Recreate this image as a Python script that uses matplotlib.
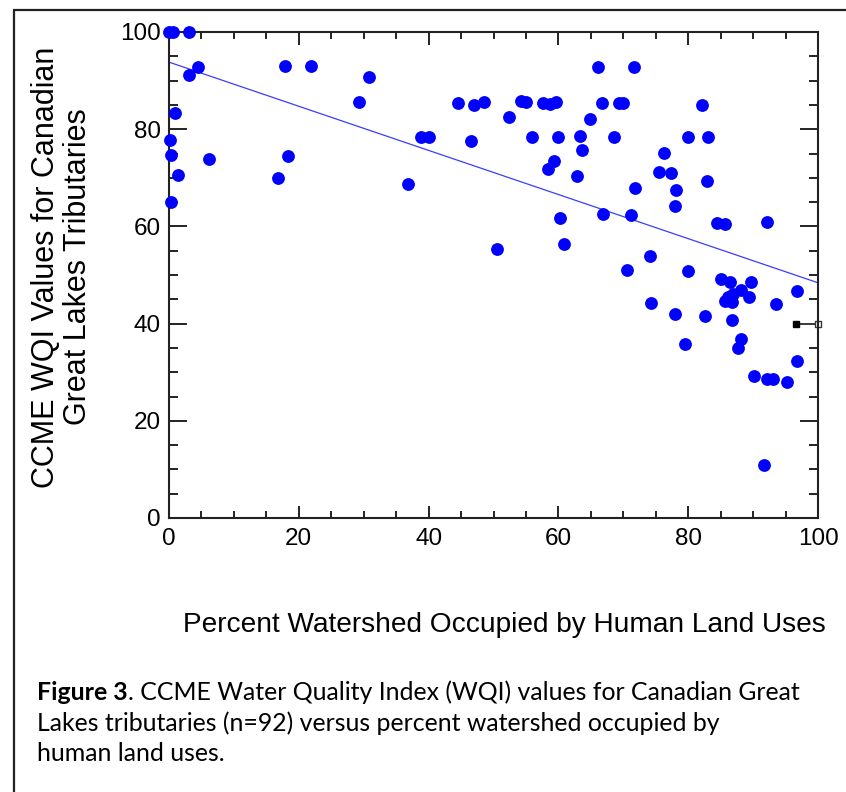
import numpy as np
import matplotlib
matplotlib.use('Agg')
import matplotlib.pyplot as plt
from matplotlib.patches import Rectangle

# percent watershed in human land use vs CCME WQI
land_use = [0.0, 0.6, 3.1, 4.4, 3.1, 1.0, 0.1, 0.3, 1.4, 0.3, 6.1,
            17.9, 21.9, 18.4, 16.8, 30.8, 29.3, 36.8, 38.9, 40.0,
            44.6, 47.0, 48.6, 46.6, 52.4, 54.3, 55.0, 57.7, 58.7, 59.6,
            55.9, 60.0, 63.4, 63.7, 64.9, 66.7, 69.4, 70.0, 68.6, 59.3,
            58.4, 62.9, 50.5, 60.3, 60.9, 66.9, 71.2, 71.8, 66.1, 71.6,
            82.1, 79.9, 83.1, 76.3, 75.5, 77.3, 78.1, 77.9, 82.9, 84.5,
            85.7, 92.1, 74.1, 70.5, 80.0, 74.3, 77.9, 82.6, 79.5, 85.1,
            86.4, 89.7, 88.2, 86.9, 89.4, 85.7, 86.7, 86.7, 88.1, 87.7,
            93.6, 96.7, 96.8, 90.2, 92.1, 93.1, 95.3, 91.7, 86.2]
wqi = [100.0, 100.0, 100.0, 92.8, 91.2, 83.4, 77.8, 74.6, 70.6, 65.0, 73.8,
       93.0, 93.0, 74.5, 70.0, 90.7, 85.6, 68.7, 78.4, 78.4,
       85.4, 85.0, 85.5, 77.5, 82.6, 85.8, 85.6, 85.4, 85.2, 85.5,
       78.4, 78.4, 78.6, 75.8, 82.0, 85.4, 85.4, 85.4, 78.3, 73.4,
       71.9, 70.3, 55.4, 61.7, 56.3, 62.6, 62.4, 67.9, 92.7, 92.7,
       85.0, 78.3, 78.3, 75.2, 71.1, 71.0, 67.4, 64.3, 69.3, 60.6,
       60.4, 60.9, 54.0, 51.0, 50.8, 44.3, 41.9, 41.5, 35.7, 49.1,
       48.6, 48.6, 46.9, 46.0, 45.4, 44.6, 44.4, 40.7, 36.9, 35.0,
       44.1, 46.7, 32.3, 29.3, 28.7, 28.6, 28.0, 10.9, 45.5]

# fitted line as drawn in the figure
fit_intercept = 93.8
fit_slope = -0.454

# small black marker with bar at the right edge
marker_x = [96.6, 100]
marker_y = [40, 40]

caption_lines = ['. CCME Water Quality Index (WQI) values for Canadian Great',
                 'Lakes tributaries (n=92) versus percent watershed occupied by',
                 'human land uses.']

plt.rcParams['font.family'] = ['Liberation Sans', 'DejaVu Sans']

fig = plt.figure(figsize=(8.46, 7.92), dpi=100)
ax = fig.add_axes([169 / 846, 1 - 518 / 792, 649 / 846, 486 / 792])

ax.plot(land_use, wqi, 'o', color='#0000ff', ms=8.2, mec='#0000ff', clip_on=False, zorder=3)

xs = np.array([0, 100])
ax.plot(xs, fit_intercept + fit_slope * xs, color='#3c3cff', lw=0.9)

ax.plot(marker_x, marker_y, color='#444444', lw=1.2, clip_on=False)
ax.plot(marker_x[0], marker_y[0], 's', color='black', ms=5, clip_on=False)
ax.plot(marker_x[1], marker_y[1], 's', mfc='white', mec='#333333', ms=4, mew=1, clip_on=False)

ax.set_xlim(0, 100)
ax.set_ylim(0, 100)
ax.set_xticks(range(0, 101, 20))
ax.set_yticks(range(0, 101, 20))
ax.set_xticks(range(0, 101, 5), minor=True)
ax.set_yticks(range(0, 101, 5), minor=True)
for s in ax.spines.values():
    s.set_linewidth(1.5)
    s.set_color('#222222')
ax.tick_params(axis='both', which='both', direction='in', top=True, right=True,
               width=1.4, color='#222222', labelsize=17.5)
ax.tick_params(axis='x', which='major', length=9, pad=7)
ax.tick_params(axis='x', which='minor', length=4.7)
ax.tick_params(axis='y', which='major', length=13, pad=6)
ax.tick_params(axis='y', which='minor', length=6.5)

fig.text(62 / 846, 1 - 267 / 792, 'CCME WQI Values for Canadian\nGreat Lakes Tributaries',
         rotation=90, ha='center', va='center', fontsize=22, linespacing=1.1)
fig.text(504 / 846, 1 - 625 / 792, 'Percent Watershed Occupied by Human Land Uses',
         ha='center', va='center', fontsize=20.2)

# caption with bold "Figure 3"
cap_font = ['Lato', 'DejaVu Sans']
cap_size = 17.9
t1 = fig.text(37 / 846, 1 - 700 / 792, 'Figure 3', fontsize=cap_size, fontweight='bold',
              family=cap_font, va='baseline')
fig.canvas.draw()
ax.annotate(caption_lines[0], xy=(1, 0), xycoords=t1, va='bottom', ha='left',
            fontsize=cap_size, family=cap_font)
fig.text(37 / 846, 1 - 731 / 792, caption_lines[1], fontsize=cap_size, family=cap_font, va='baseline')
fig.text(37 / 846, 1 - 761 / 792, caption_lines[2], fontsize=cap_size, family=cap_font, va='baseline')

fig.patches.append(Rectangle((13.5 / 846, -0.05), 1.0, 1 - 9.5 / 792 + 0.05,
                             transform=fig.transFigure, fill=False, lw=1.6,
                             edgecolor='#222222', clip_on=False))

fig.savefig('out.png', dpi=100)
